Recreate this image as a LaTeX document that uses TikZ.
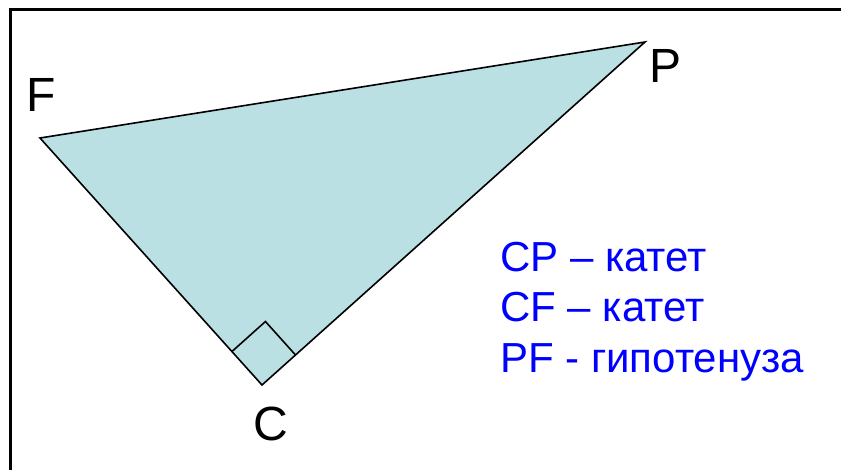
\documentclass[tikz,border=0pt]{standalone}
\usepackage{fontspec}
\setmainfont{Liberation Sans}
\usetikzlibrary{calc}
\definecolor{trifill}{RGB}{187,224,227}
\definecolor{txtblue}{RGB}{0,0,255}
\tikzset{
  vlabel/.style={anchor=base west, inner sep=0pt, font=\fontsize{48}{48}\selectfont},
  bluetext/.style={anchor=base west, inner sep=0pt, text=txtblue, font=\fontsize{42}{42}\selectfont},
  edge/.style={line width=1.6pt, line join=miter}
}
\begin{document}
\begin{tikzpicture}[x=1pt,y=-1pt]
\useasboundingbox (0,0) rectangle (841,469);
\clip (0,0) rectangle (841,469);
\draw[line width=3pt] (10,480) -- (10,9.5) -- (850,9.5);
\coordinate (F) at (40,138);
\coordinate (P) at (645,42);
\coordinate (C) at (262,385);
\coordinate (ra) at ($(C)!45pt!(F)$);
\coordinate (rb) at ($(C)!45pt!(P)$);
\coordinate (rc) at ($(ra)+(rb)-(C)$);
\fill[trifill] (F) -- (P) -- (C) -- cycle;
\draw[edge] (F) -- (P) -- (C) -- cycle;
\draw[edge] (ra) -- (rc) -- (rb);
\node[vlabel] (lF) at (26,111) {F};
\node[vlabel] (lP) at (649,82) {P};
\node[vlabel] (lC) at (253,440) {C};
\node[bluetext] (t1) at (500,271) {CP – катет};
\node[bluetext] (t2) at (500,321) {CF – катет};
\node[bluetext] (t3) at (500,372) {PF - гипотенуза};
\end{tikzpicture}
\end{document}
